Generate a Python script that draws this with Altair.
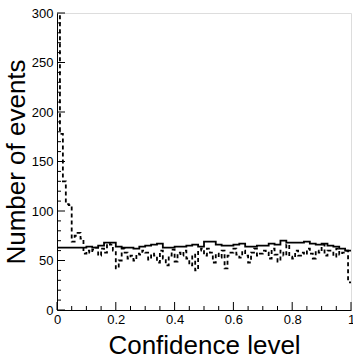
import altair as alt
import pandas as pd

# Dashed histogram: 100 bins of width 0.01
dashed_counts = [330, 178, 130, 107, 106, 69, 75, 78, 72, 57,
                 60, 58, 61, 63, 55, 62, 58, 67, 66, 60,
                 42, 50, 62, 58, 52, 55, 50, 57, 56, 60,
                 58, 51, 57, 55, 48, 60, 52, 45, 55, 61,
                 49, 58, 55, 60, 52, 45, 56, 40, 60, 62,
                 55, 62, 58, 48, 57, 53, 60, 42, 55, 58,
                 62, 56, 53, 60, 55, 48, 58, 62, 55, 57,
                 60, 58, 52, 62, 56, 49, 60, 55, 66, 54,
                 52, 60, 55, 58, 56, 62, 57, 52, 60, 58,
                 66, 55, 60, 58, 54, 62, 56, 58, 60, 28]
# Solid histogram: 50 bins of width 0.02
solid_counts = [63, 63, 63, 63, 63,
                64, 63, 65, 68, 68,
                64, 63, 63, 62, 64,
                65, 66, 67, 63, 63,
                64, 64, 65, 66, 64,
                69, 69, 66, 65, 65,
                66, 67, 64, 64, 65,
                65, 67, 66, 70, 68,
                68, 68, 69, 67, 66,
                67, 65, 64, 62, 60]

x_major = [0, 0.2, 0.4, 0.6, 0.8, 1.0]
x_minor = [0.05, 0.1, 0.15, 0.25, 0.3, 0.35, 0.45, 0.5, 0.55, 0.65, 0.7, 0.75, 0.85, 0.9, 0.95]
y_major = [0, 50, 100, 150, 200, 250, 300]
y_minor = [v for v in range(10, 300, 10) if v % 50 != 0]

def step_frame(counts, width):
    xs = [i * width for i in range(len(counts))] + [len(counts) * width]
    ys = list(counts) + [counts[-1]]
    return pd.DataFrame({"x": xs, "y": ys})

df_d = step_frame(dashed_counts, 0.01)
df_s = step_frame(solid_counts, 0.02)

W, H = 294, 297
FONT = "Liberation Sans"

xscale = alt.Scale(domain=[0, 1], nice=False, zero=False)
yscale = alt.Scale(domain=[0, 300], nice=False)

xaxis = alt.Axis(values=x_major, format="~g", ticks=False, grid=False,
                 title="Confidence level", labelFontSize=13, titleFontSize=26,
                 titleFontWeight="normal", labelPadding=3, titlePadding=6,
                 labelFont=FONT, titleFont=FONT, labelColor="black", titleColor="black",
                 domainColor="black", labelFlush=False)
yaxis = alt.Axis(values=y_major, ticks=False, grid=False,
                 title="Number of events", labelFontSize=13, titleFontSize=26,
                 titleFontWeight="normal", labelPadding=4, titlePadding=2,
                 labelFont=FONT, titleFont=FONT, labelColor="black", titleColor="black",
                 domainColor="black", labelFlush=False)

solid = alt.Chart(df_s).mark_line(interpolate="step-after", color="black",
                                  strokeWidth=1.8, clip=True).encode(
    x=alt.X("x:Q", scale=xscale, axis=xaxis),
    y=alt.Y("y:Q", scale=yscale, axis=yaxis),
)
dashed = alt.Chart(df_d).mark_line(interpolate="step-after", color="black",
                                   strokeWidth=1.8, strokeDash=[4, 3], clip=True).encode(
    x=alt.X("x:Q", scale=xscale),
    y=alt.Y("y:Q", scale=yscale),
)

def xticks(vals, length):
    return alt.Chart(pd.DataFrame({"v": vals})).mark_rule(color="black", strokeWidth=1).encode(
        x=alt.X("v:Q", scale=xscale), y=alt.value(H), y2=alt.value(H - length))

def yticks(vals, length):
    return alt.Chart(pd.DataFrame({"v": vals})).mark_rule(color="black", strokeWidth=1).encode(
        y=alt.Y("v:Q", scale=yscale), x=alt.value(0), x2=alt.value(length))

chart = alt.layer(
    dashed, solid,
    xticks(x_major, 8), xticks(x_minor, 4),
    yticks(y_major, 8), yticks(y_minor, 4),
).properties(
    width=W, height=H,
    autosize=alt.AutoSizeParams(type="none"),
    padding={"left": 57, "top": 13, "right": 2, "bottom": 48},
).configure_view(stroke="black", strokeWidth=1).configure(background="white")

chart.save("out.html", embed_options={"renderer": "svg", "actions": False})
